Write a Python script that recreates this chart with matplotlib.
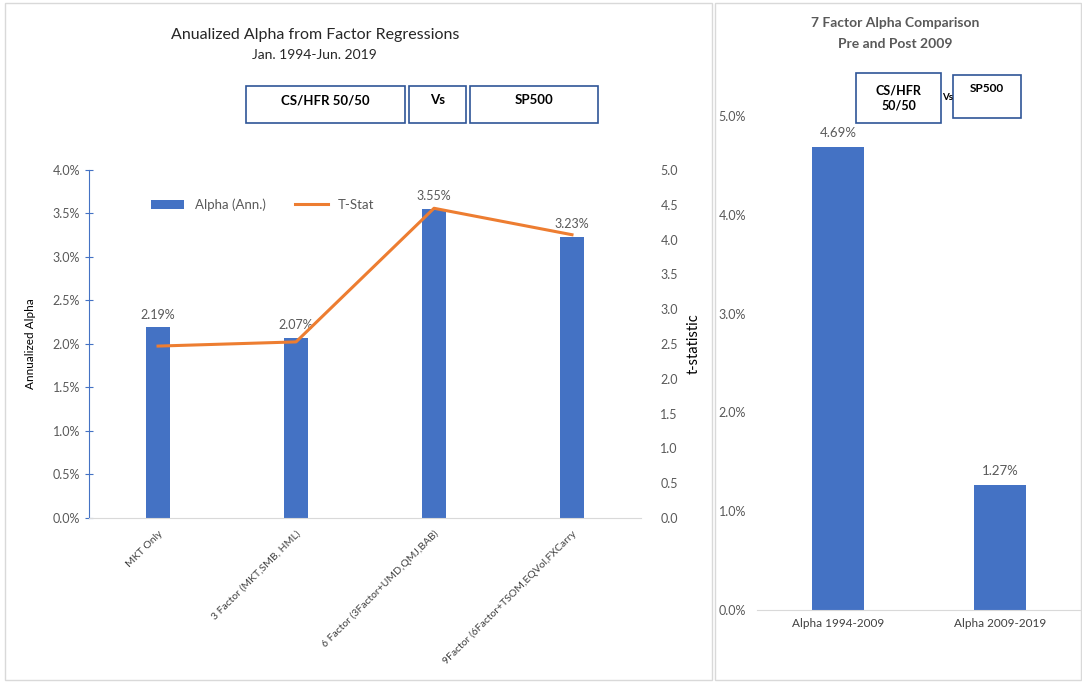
import numpy as np
import matplotlib
matplotlib.use("Agg")
import matplotlib.pyplot as plt
from matplotlib.patches import Rectangle
from matplotlib.ticker import PercentFormatter

plt.rcParams['font.family'] = ['Lato', 'DejaVu Sans']

# left chart data
models = ['MKT Only', '3 Factor (MKT,SMB, HML)', '6 Factor (3Factor+UMD,QMJ,BAB)',
          '9Factor (6Factor+TSOM,EQVol,FXCarry']
alpha_ann = [0.0219, 0.0207, 0.0355, 0.0323]
t_stat = [2.47, 2.53, 4.45, 4.07]

# right chart data
periods = ['Alpha 1994-2009', 'Alpha 2009-2019']
alpha_period = [0.0469, 0.0127]

BLUE = '#4472C4'
ORANGE = '#ED7D31'
GRAY = '#595959'
BOX_EDGE = '#2F5597'

fig = plt.figure(figsize=(10.82, 6.83), dpi=100)

# panel frames
for x0, w in [(0.0046, 0.6534), (0.6608, 0.3383)]:
    fig.patches.append(Rectangle((x0, 0.004), w, 0.991, transform=fig.transFigure,
                                 fill=False, edgecolor='#D9D9D9', lw=1))

# ---- left chart
ax = fig.add_axes([0.0823, 0.2416, 0.5101, 0.5095])
x = np.arange(len(models))
bars = ax.bar(x, alpha_ann, 0.175, color=BLUE, label='Alpha (Ann.)')
for xi, v in zip(x, alpha_ann):
    ax.text(xi, v + 0.0008, '%.2f%%' % (v * 100), ha='center', va='bottom',
            fontsize=9, color=GRAY)
ax.set_xlim(-0.5, len(models) - 0.5)
ax.set_ylim(0, 0.04)
ax.set_yticks(np.arange(0, 0.0401, 0.005))
ax.yaxis.set_major_formatter(PercentFormatter(1.0, decimals=1))
ax.tick_params(axis='y', labelsize=9, labelcolor=GRAY, color=BLUE, direction='inout', length=6)
ax.set_xticks(x)
ax.set_xticklabels(models, rotation=45, ha='right', rotation_mode='anchor',
                   fontsize=7.5, color='#404040')
ax.tick_params(axis='x', length=0, pad=8)
for s in ['top', 'right']:
    ax.spines[s].set_visible(False)
ax.spines['left'].set_color(BLUE)
ax.spines['bottom'].set_color('#D9D9D9')
ax.set_ylabel('Annualized Alpha', fontsize=8.5, labelpad=12)

ax2 = ax.twinx()
line, = ax2.plot(x, t_stat, color=ORANGE, lw=2.2, label='T-Stat')
ax2.set_ylim(0, 5)
ax2.set_yticks(np.arange(0, 5.01, 0.5))
ax2.yaxis.set_major_formatter(matplotlib.ticker.FormatStrFormatter('%.1f'))
ax2.tick_params(axis='y', labelsize=9, labelcolor=GRAY, length=0, pad=14)
for s in ax2.spines.values():
    s.set_visible(False)
ax2.set_ylabel('t-statistic', fontsize=10.5, labelpad=6)

ax.legend([bars, line], ['Alpha (Ann.)', 'T-Stat'], ncol=2, frameon=False,
          loc='center', bbox_to_anchor=(0.315, 0.9), fontsize=9.5, labelcolor=GRAY,
          handlelength=2.5, columnspacing=2.2)

fig.text(0.291, 0.949, 'Anualized Alpha from Factor Regressions', ha='center', va='center',
         fontsize=11.5, color='#262626')
fig.text(0.291, 0.919, 'Jan. 1994-Jun. 2019', ha='center', va='center',
         fontsize=10, color='#262626')

# comparison boxes, left
for x0, w, lbl in [(0.2274, 0.1470, 'CS/HFR 50/50'), (0.3780, 0.0527, 'Vs'),
                   (0.4344, 0.1183, 'SP500')]:
    fig.patches.append(Rectangle((x0, 0.8199), w, 0.0542, transform=fig.transFigure,
                                 fill=False, edgecolor=BOX_EDGE, lw=1.2))
    fig.text(x0 + w / 2, 0.853, lbl, ha='center', va='center', fontsize=9.5,
             fontweight='bold', color='black')

# ---- right chart
bx = fig.add_axes([0.6996, 0.1069, 0.2995, 0.7233])
xr = np.arange(len(periods))
bx.bar(xr, alpha_period, 0.32, color=BLUE)
for xi, v in zip(xr, alpha_period):
    bx.text(xi, v + 0.0008, '%.2f%%' % (v * 100), ha='center', va='bottom',
            fontsize=9.5, color=GRAY)
bx.set_xlim(-0.5, len(periods) - 0.5)
bx.set_ylim(0, 0.05)
bx.set_yticks(np.arange(0, 0.0501, 0.01))
bx.yaxis.set_major_formatter(PercentFormatter(1.0, decimals=1))
bx.tick_params(axis='y', labelsize=9, labelcolor=GRAY, length=0, pad=8)
bx.set_xticks(xr)
bx.set_xticklabels(periods, fontsize=8.5, color='#404040')
bx.tick_params(axis='x', length=0, pad=6)
for s in ['top', 'right', 'left']:
    bx.spines[s].set_visible(False)
bx.spines['bottom'].set_color('#D9D9D9')

fig.text(0.827, 0.967, '7 Factor Alpha Comparison', ha='center', va='center',
         fontsize=10, fontweight='bold', color=GRAY)
fig.text(0.827, 0.935, 'Pre and Post 2009', ha='center', va='center',
         fontsize=10, fontweight='bold', color=GRAY)

fig.patches.append(Rectangle((0.7911, 0.8199), 0.0786, 0.0732, transform=fig.transFigure,
                             fill=False, edgecolor=BOX_EDGE, lw=1.2))
fig.text(0.8304, 0.8565, 'CS/HFR\n50/50', ha='center', va='center', fontsize=9,
         fontweight='bold', linespacing=1.3)
fig.text(0.8755, 0.857, 'Vs', ha='center', va='center', fontsize=7, fontweight='bold')
fig.patches.append(Rectangle((0.8808, 0.8272), 0.0628, 0.063, transform=fig.transFigure,
                             fill=False, edgecolor=BOX_EDGE, lw=1.2))
fig.text(0.9122, 0.870, 'SP500', ha='center', va='center', fontsize=8.5, fontweight='bold')

fig.savefig('out.png', dpi=100)
